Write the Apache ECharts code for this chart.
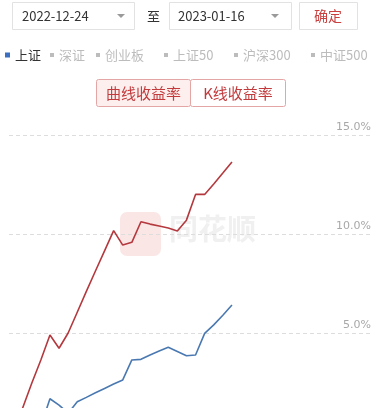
<!DOCTYPE html>
<html>
<head>
<meta charset="utf-8">
<script src="https://cdn.jsdelivr.net/npm/echarts@6/dist/echarts.min.js"></script>
<style>
html,body{margin:0;padding:0;background:#fff;overflow:hidden;}
#c{width:381px;height:440px;}
</style>
</head>
<body>
<div id="c"></div>
<script>
// ---- data ----
const categories = ['2022-12-12','2022-12-13','2022-12-14','2022-12-15','2022-12-16',
  '2022-12-19','2022-12-20','2022-12-21','2022-12-22','2022-12-23',
  '2022-12-26','2022-12-27','2022-12-28','2022-12-29','2022-12-30',
  '2023-01-03','2023-01-04','2023-01-05','2023-01-06','2023-01-09',
  '2023-01-10','2023-01-11','2023-01-12','2023-01-13','2023-01-16'];
const curveReturn = [0, 1.21, 2.46, 3.64, 4.9, 4.23, 5.0, 6.05, 7.1, 8.13,
  9.15, 10.17, 9.44, 9.58, 10.62, 10.5, 10.4, 10.3, 10.15, 10.7,
  12.0, 12.0, 12.53, 13.08, 13.64];
const shangzheng = [0, 0.1, 0.2, 0.3, 1.68, 1.36, 0.95, 1.53, 1.75, 1.98,
  2.2, 2.42, 2.63, 3.64, 3.67, 3.89, 4.09, 4.28, 4.07, 3.85,
  3.89, 4.98, 5.41, 5.9, 6.41];
const legendNames = ['上证','深证','创业板','上证50','沪深300','中证500'];
const legendActive = ['上证'];
const yTicks = [0, 5, 10, 15];
const startDate = '2022-12-24';
const endDate = '2023-01-16';
const buttonLabels = ['曲线收益率','K线收益率'];

// ---- chart ----
const FONT = "'Noto Sans CJK SC', 'Noto Sans', sans-serif";
const chart = echarts.init(document.getElementById('c'));
const legendLeft = [5, 50, 96, 164, 234, 311];
const legends = legendNames.map((n, i) => {
  const sel = {}; sel[n] = legendActive.indexOf(n) >= 0;
  const active = sel[n];
  return {
    data: [n], left: legendLeft[i], top: 48, padding: 0,
    icon: 'rect', itemWidth: active ? 5 : 4, itemHeight: active ? 5 : 4,
    selected: sel, selectedMode: true,
    inactiveColor: '#bcbcbc',
    textStyle: {fontSize: 13, color: '#333', fontFamily: FONT, lineHeight: 14}
  };
});
const series = [
  {name: '收益率', type: 'line', data: curveReturn, showSymbol: false, symbol: 'none',
   lineStyle: {color: '#b4393e', width: 1.6}, itemStyle: {color: '#b4393e'}, z: 3},
  {name: '上证', type: 'line', data: shangzheng, showSymbol: false, symbol: 'none',
   lineStyle: {color: '#4a79b2', width: 1.6}, itemStyle: {color: '#3d6fc0'}, z: 3}
];
legendNames.slice(1).forEach(n => series.push({name: n, type: 'line', data: [], symbol: 'none', itemStyle: {color: '#ccc'}}));

const btnStroke = '#e3a6a5';
chart.setOption({
  animation: false,
  textStyle: {fontFamily: FONT},
  legend: legends,
  grid: {left: 9, right: 8, top: 135, bottom: 8, containLabel: false},
  xAxis: {type: 'category', data: categories, boundaryGap: true, max: 39,
    axisLine: {show: false}, axisTick: {show: false}, axisLabel: {show: false}, splitLine: {show: false}},
  yAxis: {type: 'value', position: 'right', min: yTicks[0], max: yTicks[yTicks.length-1], interval: 5,
    axisLine: {show: false}, axisTick: {show: false},
    axisLabel: {inside: true, margin: 2, color: '#a8a8a8', fontSize: 11, verticalAlign: 'bottom',
      padding: [0, 0, 2, 0], fontFamily: "'DejaVu Sans', sans-serif",
      formatter: v => v.toFixed(1) + '%'},
    splitLine: {lineStyle: {color: '#dddddd', type: [4, 3], width: 1}}},
  series: series,
  graphic: [
    // watermark
    {type: 'rect', z: -1, shape: {x: 120, y: 212, width: 41, height: 44, r: 7}, style: {fill: '#fbe6e6'}},
    {type: 'text', z: -1, x: 169, y: 214, style: {text: '同花顺', fontSize: 29, fontWeight: 'bold', fill: '#f0f0f0', fontFamily: FONT}},
    // date box 1
    {type: 'rect', shape: {x: 12.5, y: 2.5, width: 122, height: 27}, style: {fill: '#fff', stroke: '#e2e2e2', lineWidth: 1}},
    {type: 'text', x: 22, y: 16, style: {text: startDate, fontSize: 13, fill: '#333', verticalAlign: 'middle', fontFamily: FONT}},
    {type: 'polygon', shape: {points: [[117, 14], [125, 14], [121, 18]]}, style: {fill: '#9a9a9a'}},
    {type: 'text', x: 147, y: 16, style: {text: '至', fontSize: 13, fill: '#333', verticalAlign: 'middle', fontFamily: FONT}},
    // date box 2
    {type: 'rect', shape: {x: 169.5, y: 2.5, width: 122, height: 27}, style: {fill: '#fff', stroke: '#e2e2e2', lineWidth: 1}},
    {type: 'text', x: 178, y: 16, style: {text: endDate, fontSize: 13, fill: '#333', verticalAlign: 'middle', fontFamily: FONT}},
    {type: 'polygon', shape: {points: [[271, 14], [279, 14], [275, 18]]}, style: {fill: '#9a9a9a'}},
    // confirm
    {type: 'rect', shape: {x: 299.5, y: 2.5, width: 58, height: 27}, style: {fill: '#fff', stroke: '#e2e2e2', lineWidth: 1}},
    {type: 'text', x: 314, y: 16, style: {text: '确定', fontSize: 14, fill: '#c9403f', verticalAlign: 'middle', fontFamily: FONT}},
    // buttons
    {type: 'rect', shape: {x: 96.5, y: 79.5, width: 94, height: 27, r: 2}, style: {fill: '#fcefee', stroke: btnStroke, lineWidth: 1}},
    {type: 'rect', shape: {x: 190.5, y: 79.5, width: 95, height: 27, r: 2}, style: {fill: '#fff', stroke: btnStroke, lineWidth: 1}},
    {type: 'text', x: 143.5, y: 93, style: {text: buttonLabels[0], fontSize: 15, fill: '#c23a3c', align: 'center', verticalAlign: 'middle', fontFamily: FONT}},
    {type: 'text', x: 238, y: 93, style: {text: buttonLabels[1], fontSize: 15, fill: '#c23a3c', align: 'center', verticalAlign: 'middle', fontFamily: FONT}}
  ]
});
</script>
</body>
</html>
